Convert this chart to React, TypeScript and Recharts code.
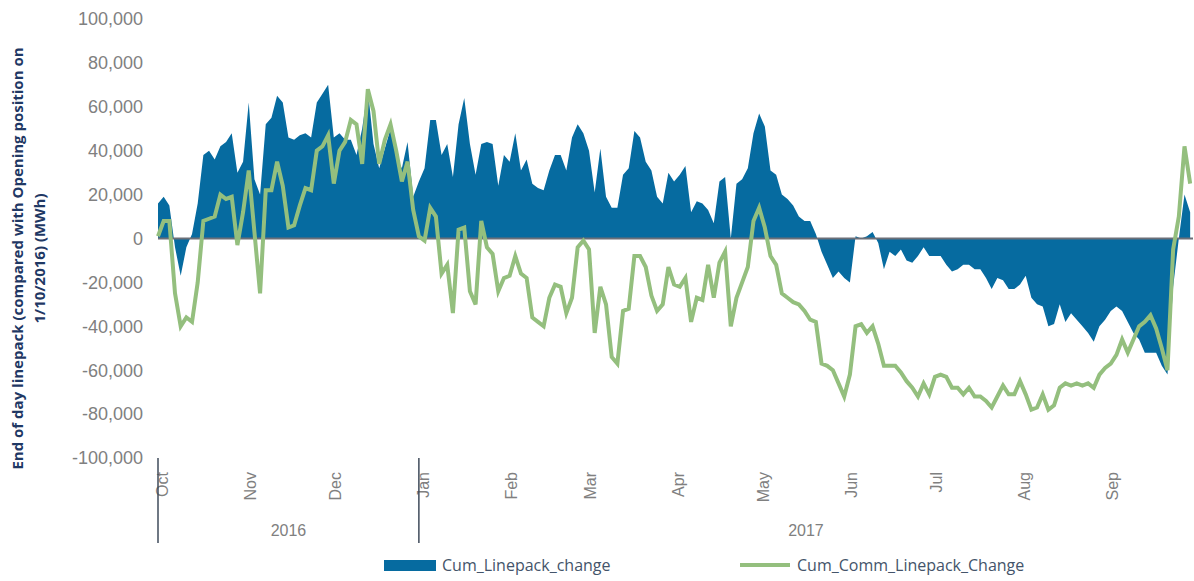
import { ComposedChart, Area, Line, XAxis, YAxis, ReferenceLine, Label } from "recharts";

// one reading every 2 days, starting 1 Oct 2016 (values in thousand MWh)
const STEP_DAYS = 2;

const cumLinepackChange = [
  16, 19, 15, -4, -17, -4, 2, 16, 38, 40, 36, 42, 44, 48, 30, 35, 62, 27, 20, 52,
  55, 65, 62, 46, 45, 47, 48, 46, 62, 66, 70, 46, 48, 45, 45, 38, 50, 68, 43, 32,
  41, 50, 37, 32, 44, 19, 26, 32, 54, 54, 38, 43, 28, 52, 64, 43, 29, 43, 44, 43,
  24, 38, 35, 48, 31, 36, 25, 23, 22, 31, 38, 38, 31, 46, 52, 48, 40, 21, 41, 19,
  14, 14, 29, 32, 49, 46, 35, 31, 19, 16, 30, 26, 29, 33, 12, 17, 16, 13, 7, 26,
  28, 0, 25, 27, 32, 48, 57, 51, 31, 29, 20, 18, 15, 10, 8, 8, 2, -6, -12, -18,
  -15, -18, -20, 1, 0, 1, 3, -2, -14, -6, -8, -5, -10, -11, -8, -4, -8, -8, -8, -12,
  -15, -14, -12, -12, -14, -14, -18, -23, -18, -19, -23, -23, -21, -17, -27, -30, -31, -40, -39, -30,
  -38, -34, -37, -40, -43, -47, -40, -37, -33, -31, -33, -38, -43, -46, -52, -52, -52, -58, -62, -22,
  0, 20, 12,
];

const cumCommLinepackChange = [
  1, 8, 8, -25, -40, -36, -38, -20, 8, 9, 10, 20, 18, 19, -3, 12, 31, 3, -25, 22,
  22, 35, 24, 5, 6, 15, 23, 22, 40, 42, 47, 25, 40, 44, 54, 52, 34, 68, 58, 34,
  45, 52, 40, 26, 35, 13, 1, -1, 14, 10, -16, -12, -34, 4, 5, -24, -30, 8, -4, -7,
  -24, -18, -17, -8, -16, -18, -36, -38, -40, -27, -21, -22, -34, -27, -4, -1, -5, -43, -22, -30,
  -54, -57, -33, -32, -8, -8, -13, -26, -33, -30, -13, -21, -22, -18, -38, -27, -28, -12, -27, -11,
  -6, -40, -27, -20, -13, 8, 14, 5, -8, -12, -25, -27, -29, -30, -33, -37, -38, -57, -58, -60,
  -66, -72, -62, -40, -39, -43, -40, -48, -58, -58, -58, -61, -65, -68, -72, -66, -71, -63, -62, -63,
  -68, -68, -71, -68, -72, -72, -74, -77, -72, -67, -71, -71, -65, -71, -78, -77, -71, -78, -76, -68,
  -66, -67, -66, -67, -66, -68, -62, -59, -57, -53, -46, -52, -46, -40, -38, -35, -41, -50, -60, -5,
  10, 42, 25,
];

const monthLabels = ["Oct", "Nov", "Dec", "Jan", "Feb", "Mar", "Apr", "May", "Jun", "Jul", "Aug", "Sep"];
const monthStartDays = [0, 31, 61, 92, 123, 151, 182, 212, 243, 273, 304, 335];
const yearLabels = ["2016", "2017"];
const yearStartDays = [0, 92, 365];
const yTicks = [-100000, -80000, -60000, -40000, -20000, 0, 20000, 40000, 60000, 80000, 100000];

const BLUE = "#066ba0";
const GREEN = "#94bf7e";
const GREY = "#808080";
const SLATE = "#44546a";

const data = cumLinepackChange.map((v, i) => ({
  day: i * STEP_DAYS,
  linepack: v * 1000,
  comm: cumCommLinepackChange[i] * 1000,
}));

const yearMids = yearLabels.map((_, i) => (yearStartDays[i] + yearStartDays[i + 1]) / 2);
const yearTicks = [yearStartDays[0], yearStartDays[1], ...yearMids];

const MonthTick = ({ x, y, payload }: any) => {
  const idx = monthStartDays.indexOf(payload.value);
  return (
    <text
      x={x + 10}
      y={y + 14}
      transform={`rotate(-90 ${x + 10} ${y + 14})`}
      textAnchor="end"
      fill={GREY}
      fontSize={16}
      fontFamily="Liberation Sans, Arial, sans-serif"
    >
      {monthLabels[idx]}
    </text>
  );
};

const YearTick = ({ x, y, payload }: any) => {
  const yi = yearMids.indexOf(payload.value);
  if (yi >= 0) {
    return (
      <text x={x} y={y + 38} textAnchor="middle" fill={GREY} fontSize={16} fontFamily="Liberation Sans, Arial, sans-serif">
        {yearLabels[yi]}
      </text>
    );
  }
  return <line x1={x} x2={x} y1={y - 40} y2={y + 45} stroke="#3f4b5b" strokeWidth={1.5} />;
};

const YTitle = ({ viewBox }: any) => {
  const cx = 29;
  const cy = viewBox.y + viewBox.height / 2 + 20;
  return (
    <text
      transform={`rotate(-90 ${cx} ${cy})`}
      x={cx}
      y={cy}
      textAnchor="middle"
      fill="#1f3864"
      fontSize={15}
      fontWeight="bold"
      fontFamily="Open Sans, sans-serif"
    >
      <tspan x={cx} dy={-6}>End of day linepack (compared with Opening position on</tspan>
      <tspan x={cx} dy={22}>1/10/2016) (MWh)</tspan>
    </text>
  );
};

const App = () => {
  return (
    <div style={{ position: "absolute", left: 0, top: 0, width: 1194, height: 581, background: "#fff" }}>
      <ComposedChart width={1194} height={581} data={data} margin={{ top: 19, right: 1, bottom: 38, left: 0 }}>
        <YAxis
          type="number"
          domain={[-100000, 100000]}
          ticks={yTicks}
          interval={0}
          width={158}
          axisLine={false}
          tickLine={false}
          tickSize={0}
          tickMargin={15}
          tickFormatter={(v: number) => v.toLocaleString("en-US")}
          tick={{ fill: GREY, fontSize: 18, fontFamily: "Liberation Sans, Arial, sans-serif" }}
        >
          <Label content={<YTitle />} />
        </YAxis>
        <XAxis
          dataKey="day"
          type="number"
          domain={[0, 365]}
          ticks={monthStartDays}
          interval={0}
          height={40}
          axisLine={false}
          tickLine={false}
          tickSize={0}
          tickMargin={0}
          tick={<MonthTick />}
        />
        <XAxis
          xAxisId="year"
          dataKey="day"
          type="number"
          domain={[0, 365]}
          ticks={yearTicks}
          interval={0}
          height={45}
          axisLine={false}
          tickLine={false}
          tickSize={0}
          tickMargin={0}
          tick={<YearTick />}
        />
        <Area
          type="linear"
          dataKey="linepack"
          name="Cum_Linepack_change"
          stroke="none"
          fill={BLUE}
          fillOpacity={1}
          baseValue={0}
          isAnimationActive={false}
        />
        <ReferenceLine y={0} stroke="#6b6f78" strokeWidth={2} />
        <Line
          type="linear"
          dataKey="comm"
          name="Cum_Comm_Linepack_Change"
          stroke={GREEN}
          strokeWidth={4}
          dot={false}
          isAnimationActive={false}
        />
      </ComposedChart>
      <div style={{ position: "absolute", top: 553, left: 0, width: 1194, height: 24, fontFamily: "Open Sans, sans-serif", fontSize: 16, color: SLATE }}>
        <span style={{ position: "absolute", left: 384, top: 7, width: 52, height: 11, background: BLUE }} />
        <span style={{ position: "absolute", left: 442, top: 0, lineHeight: "24px" }}>Cum_Linepack_change</span>
        <span style={{ position: "absolute", left: 740, top: 10, width: 50, height: 4, background: GREEN }} />
        <span style={{ position: "absolute", left: 797, top: 0, lineHeight: "24px" }}>Cum_Comm_Linepack_Change</span>
      </div>
    </div>
  );
};

export default App;
